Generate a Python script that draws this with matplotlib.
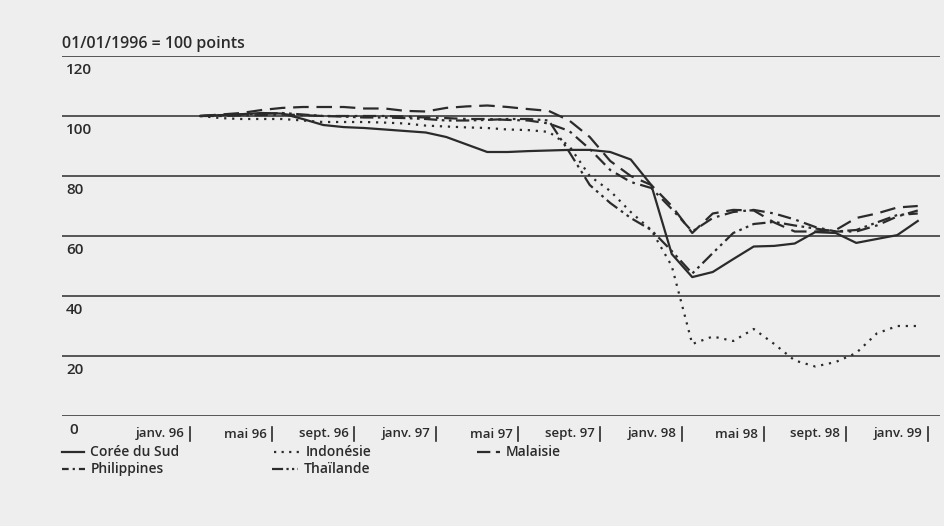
import matplotlib
matplotlib.use("Agg")
import matplotlib.pyplot as plt
from matplotlib.lines import Line2D
import numpy as np

plt.rcParams['font.family'] = ['Open Sans', 'DejaVu Sans']

title = "01/01/1996 = 100 points"
tick_labels = ["janv. 96", "mai 96", "sept. 96", "janv. 97", "mai 97",
               "sept. 97", "janv. 98", "mai 98", "sept. 98", "janv. 99"]
tick_months = [0, 4, 8, 12, 16, 20, 24, 28, 32, 36]
y_ticks = [0, 20, 40, 60, 80, 100, 120]

# monthly values, Jan 1996 .. Dec 1998
coree = [100, 100.3, 100.6, 101, 100.8, 99, 97, 96.3, 96, 95.5, 95, 94.5,
         93, 90.5, 88, 88, 88.3, 88.5, 88.7, 88.7, 88, 85.5, 77, 54,
         46.3, 48, 52.3, 56.5, 56.7, 57.5, 61.3, 61, 57.7, 59, 60.3, 65]
indonesie = [100, 99.3, 99, 99, 99, 98.5, 98, 98, 98, 97.8, 97.5, 96.8,
             96.5, 96.2, 96, 95.5, 95.3, 94.7, 90, 80, 75, 68, 62, 50,
             24, 26.5, 25, 29, 24, 18.5, 16.5, 18, 21, 27.5, 30, 30]
malaisie = [100, 100.5, 101, 102, 102.7, 103, 103, 103, 102.5, 102.5, 101.7, 101.5,
            102.7, 103.2, 103.5, 103, 102.3, 101.7, 98.5, 93, 85, 80, 77, 70,
            61, 67.5, 68.7, 68.5, 64.5, 61.5, 61.5, 62, 66, 67.5, 69.5, 70]
philippines = [100, 100, 100.2, 100.3, 100.5, 100.3, 100, 100, 100, 100, 99.8, 99.5,
               99.3, 99, 99, 98.7, 98.5, 97.5, 95, 89, 82, 78, 76, 69,
               61.5, 66, 68, 68.7, 67.5, 65.5, 63, 61.5, 61.5, 63.5, 66.5, 68.5]
thailande = [100, 100.3, 100.5, 100.7, 101, 100.5, 100, 99.8, 99.5, 99.5, 99.3, 99,
             98.5, 98.5, 98.7, 99, 99, 98.5, 88, 77, 71, 66, 62, 55,
             47.5, 54.3, 61, 64, 64.7, 63.5, 62.5, 61.5, 62, 64.5, 67, 67.5]

series_names = ["Corée du Sud", "Indonésie", "Malaisie", "Philippines", "Thaïlande"]

ink = "#2b2b2b"
bg = "#eeeeee"

W, H = 945, 526
fig = plt.figure(figsize=(W / 100, H / 100), dpi=100, facecolor=bg)
ax_l, ax_r, ax_t, ax_b = 62, 940, 56, 416
ax = fig.add_axes([ax_l / W, 1 - ax_b / H, (ax_r - ax_l) / W, (ax_b - ax_t) / H])
ax.set_facecolor(bg)

px_per_month = 20.5
x0_px = 190
ax.set_xlim((ax_l - x0_px) / px_per_month, (ax_r - x0_px) / px_per_month)
ax.set_ylim(0, 120)

for s in ax.spines.values():
    s.set_visible(False)
ax.set_xticks([])
ax.set_yticks([])

for v in y_ticks:
    ax.axhline(v, color="#4a4a4a", lw=1.3, zorder=1)
    ax.annotate(str(v), xy=(0, v), xycoords=ax.get_yaxis_transform(),
                xytext=(3 if v else 5, -10), textcoords="offset points",
                ha="left", va="center", fontsize=11, fontweight="semibold",
                color=ink)

x = np.arange(len(coree)) + 0.5
lw = 1.6
styles = {
    "Corée du Sud": "-",
    "Indonésie": (0, (1, 2.6)),
    "Malaisie": (0, (7, 3.5)),
    "Philippines": (0, (6, 2.5, 1.2, 2.5)),
    "Thaïlande": (0, (6, 2, 1.2, 2, 1.2, 2)),
}
# shorter patterns so the small key samples show the full motif
key_styles = {
    "Corée du Sud": "-",
    "Indonésie": (0, (1, 2.4)),
    "Malaisie": (0, (6, 2.5)),
    "Philippines": (0, (3, 1.8, 1, 1.8)),
    "Thaïlande": (0, (5, 1.5, 1, 1.5, 1, 1.5)),
}
data = dict(zip(series_names, [coree, indonesie, malaisie, philippines, thailande]))
for name in series_names:
    ax.plot(x, data[name], color=ink, lw=lw, linestyle=styles[name],
            zorder=3, label=name)

xt = ax.get_xaxis_transform()
for m, lab in zip(tick_months, tick_labels):
    ax.plot([m, m], [-0.03, -0.07], transform=xt, color=ink, lw=1.2,
            clip_on=False)
    ax.annotate(lab, xy=(m, -0.05), xycoords=xt, xytext=(-4, 0),
                textcoords="offset points", ha="right", va="center",
                fontsize=9.5, fontweight="semibold", color=ink)

fig.text(ax_l / W, 1 - 44 / H, title, ha="left", va="center",
         fontsize=11.5, fontweight="semibold", color=ink)

# manual legend (two rows, like the printed key)
legend_items = [
    ("Corée du Sud", 62, 84, 452),
    ("Indonésie", 274, 300, 452),
    ("Malaisie", 477, 500, 452),
    ("Philippines", 62, 85, 469),
    ("Thaïlande", 272, 298, 469),
]
for name, xa, xb, yp in legend_items:
    fig.add_artist(Line2D([xa / W, xb / W], [1 - yp / H, 1 - yp / H],
                          transform=fig.transFigure, color=ink, lw=lw,
                          linestyle=key_styles[name]))
    fig.text((xb + 6) / W, 1 - yp / H, name, ha="left", va="center",
             fontsize=10, fontweight="semibold", color=ink)

fig.savefig("out.png", dpi=100, facecolor=bg)
